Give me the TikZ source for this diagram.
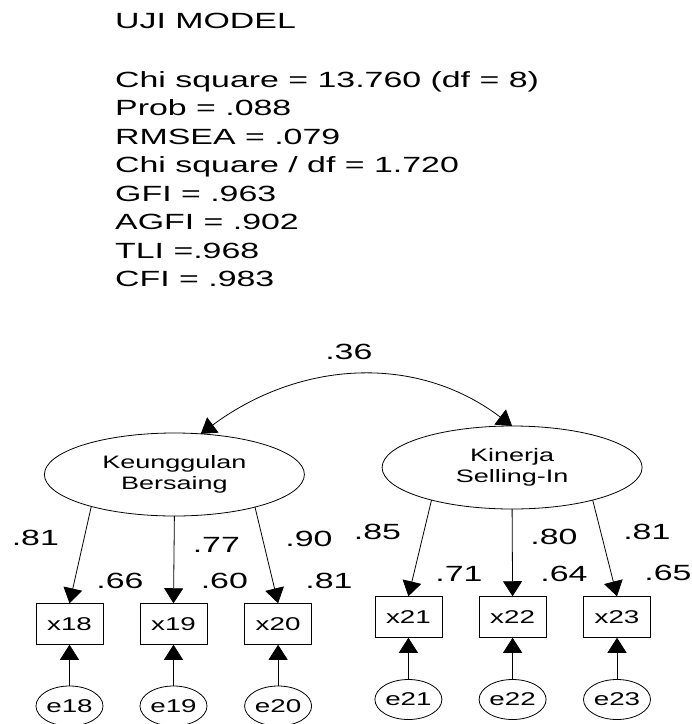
\documentclass[tikz,border=0pt]{standalone}
\usepackage{fontspec}
\setmainfont{Liberation Sans}
\newfontfamily\statfont[FakeStretch=1.54]{Liberation Sans}
\newfontfamily\smallfont[FakeStretch=1.5]{Liberation Sans}
\usetikzlibrary{arrows.meta,shapes.geometric}
\tikzset{
  stat/.style={anchor=base west, inner sep=0pt, font=\statfont\fontsize{22}{26}\selectfont},
  lbl/.style={inner sep=0pt, font=\statfont\fontsize{22}{26}\selectfont},
  latent/.style={ellipse, draw, line width=0.8pt, minimum width=260pt, minimum height=83pt,
    inner sep=0pt, outer sep=0pt, align=center, font=\smallfont\fontsize{18}{21}\selectfont},
  obs/.style={rectangle, draw, line width=0.8pt, minimum width=67pt, minimum height=41.5pt,
    inner sep=0pt, outer sep=0pt, font=\smallfont\fontsize{18.5}{20}\selectfont},
  err/.style={ellipse, draw, line width=0.8pt, minimum width=67pt, minimum height=40pt,
    inner sep=0pt, outer sep=0pt, font=\smallfont\fontsize{18.5}{20}\selectfont},
  arr/.style={-{Triangle[width=19pt,length=15pt]}, line width=0.8pt},
  dblarr/.style={{Triangle[width=19pt,length=15pt]}-{Triangle[width=19pt,length=15pt]}, line width=0.8pt}
}
\begin{document}
\begin{tikzpicture}[x=1pt,y=-1pt]
\useasboundingbox[fill=white] (0,0) rectangle (692,724);

% statistics
\node[stat] (t0) at (115,28) {UJI MODEL};
\node[stat] (t1) at (115,87) {Chi square = 13.760 (df = 8)};
\node[stat] (t2) at (115,115.5) {Prob = .088};
\node[stat] (t3) at (115,144) {RMSEA = .079};
\node[stat] (t4) at (115,172.5) {Chi square / df = 1.720};
\node[stat] (t5) at (115,201) {GFI = .963};
\node[stat] (t6) at (115,229.5) {AGFI = .902};
\node[stat] (t7) at (115,258) {TLI =.968};
\node[stat] (t8) at (115,286.5) {CFI = .983};

% latent variables
\node[latent] (K) at (174.4,474.5) {Keunggulan\\Bersaing};
\node[latent] (S) at (512.1,467.5) {Kinerja\\Selling-In};

% covariance
\draw[dblarr] (K.57) .. controls (299,361) and (415.6,353) .. (S.90);
\node[lbl] (c36) at (348.8,351.7) {.36};

% observed
\node[obs] (x18) at (69.5,624) {x18};
\node[obs] (x19) at (173.5,624) {x19};
\node[obs] (x20) at (278.1,624) {x20};
\node[obs] (x21) at (408.4,617) {x21};
\node[obs] (x22) at (512.6,617) {x22};
\node[obs] (x23) at (617,617) {x23};

% errors
\node[err] (e18) at (69.5,706) {e18};
\node[err] (e19) at (173.5,706) {e19};
\node[err] (e20) at (278.1,706) {e20};
\node[err] (e21) at (408.4,699.5) {e21};
\node[err] (e22) at (512.6,699.5) {e22};
\node[err] (e23) at (617,699.5) {e23};

% loadings
\draw[arr] (K.201.7) -- (x18.north);
\draw[arr] (K.270) -- (x19.north);
\draw[arr] (K.338.1) -- (x20.north);
\draw[arr] (S.202) -- (x21.north);
\draw[arr] (S.270) -- (x22.north);
\draw[arr] (S.338) -- (x23.north);

% error paths
\draw[arr] (e18.north) -- (x18.south);
\draw[arr] (e19.north) -- (x19.south);
\draw[arr] (e20.north) -- (x20.south);
\draw[arr] (e21.north) -- (x21.south);
\draw[arr] (e22.north) -- (x22.south);
\draw[arr] (e23.north) -- (x23.south);

% labels
\node[lbl] (l1) at (35.3,538) {.81};
\node[lbl] (l2) at (216.3,545) {.77};
\node[lbl] (l3) at (309,539) {.90};
\node[lbl] (l4) at (377.5,532) {.85};
\node[lbl] (l5) at (554,537) {.80};
\node[lbl] (l6) at (646.8,532) {.81};
\node[lbl] (r1) at (120,581) {.66};
\node[lbl] (r2) at (224.3,581) {.60};
\node[lbl] (r3) at (329,581) {.81};
\node[lbl] (r4) at (459,574) {.71};
\node[lbl] (r5) at (564,574) {.64};
\node[lbl] (r6) at (668,573) {.65};
\end{tikzpicture}
\end{document}
